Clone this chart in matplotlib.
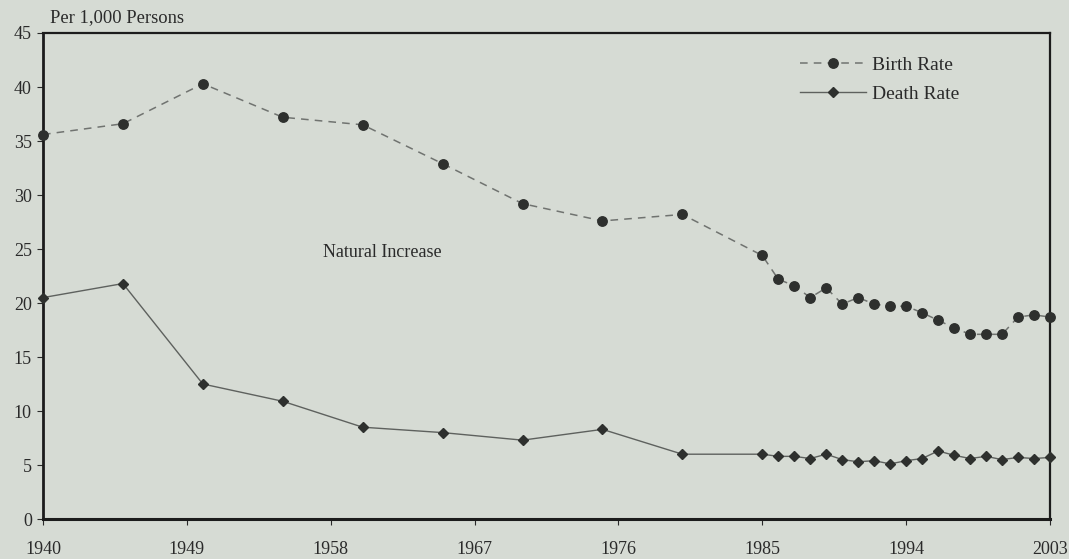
import matplotlib
matplotlib.use("Agg")
import matplotlib.pyplot as plt

# Data
years_birth = [1940, 1945, 1950, 1955, 1960, 1965, 1970, 1975, 1980, 1985,
               1986, 1987, 1988, 1989, 1990, 1991, 1992, 1993, 1994, 1995,
               1996, 1997, 1998, 1999, 2000, 2001, 2002, 2003]
birth_rate = [35.6, 36.6, 40.3, 37.2, 36.5, 32.9, 29.2, 27.6, 28.2, 24.4,
              22.2, 21.6, 20.5, 21.4, 19.9, 20.5, 19.9, 19.7, 19.7, 19.1,
              18.4, 17.7, 17.1, 17.1, 17.1, 18.7, 18.9, 18.7]
years_death = years_birth
death_rate = [20.5, 21.8, 12.5, 10.9, 8.5, 8.0, 7.3, 8.3, 6.0, 6.0,
              5.8, 5.8, 5.6, 6.0, 5.5, 5.3, 5.4, 5.1, 5.4, 5.6,
              6.3, 5.9, 5.6, 5.8, 5.5, 5.7, 5.6, 5.7]
x_ticks = [1940, 1949, 1958, 1967, 1976, 1985, 1994, 2003]
y_ticks = [0, 5, 10, 15, 20, 25, 30, 35, 40, 45]

BG = "#d6dbd4"
plt.rcParams['font.family'] = ['Liberation Serif', 'DejaVu Serif']

fig = plt.figure(figsize=(10.69, 5.59), dpi=100, facecolor=BG)
ax = fig.add_axes([43/1069, 1 - 519/559, (1050-43)/1069, (519-33)/559])
ax.set_facecolor(BG)

ax.plot(years_birth, birth_rate, linestyle=(0, (5, 4)), color="#707370", lw=1.1,
        marker='o', markersize=6.8, markerfacecolor="#2e302e", markeredgecolor="#2e302e",
        clip_on=False, zorder=3, label="Birth Rate")
ax.plot(years_death, death_rate, linestyle='-', color="#5e615e", lw=1.0,
        marker='D', markersize=5, markerfacecolor="#2e302e", markeredgecolor="#2e302e",
        clip_on=False, zorder=3, label="Death Rate")

ax.set_xlim(1940, 2003)
ax.set_ylim(0, 45)
ax.set_xticks(x_ticks)
ax.set_yticks(y_ticks)
ax.tick_params(axis='both', labelsize=13, colors="#2a2a2a", length=4, width=0.8,
               direction='out')
ax.tick_params(axis='x', pad=12)
ax.tick_params(axis='y', pad=4)

for side, w in [('left', 2.0), ('bottom', 2.2), ('top', 1.6), ('right', 1.6)]:
    ax.spines[side].set_linewidth(w)
    ax.spines[side].set_color("#1c1c1c")

ax.text(1957.5, 24.7, "Natural Increase", fontsize=13, va='center', ha='left',
        color="#2a2a2a")

fig.text(50/1069, 1 - 18/559, "Per 1,000 Persons", fontsize=13.3, va='center',
         ha='left', color="#2a2a2a")

leg = ax.legend(loc='upper left', bbox_to_anchor=(800/1069, 1 - 56/559),
                bbox_transform=fig.transFigure, frameon=False, fontsize=14,
                handlelength=3.4, handletextpad=0.3, labelspacing=0.62,
                borderpad=0, borderaxespad=0)
for t in leg.get_texts():
    t.set_color("#2a2a2a")

fig.savefig("out.png", dpi=100, facecolor=BG)
